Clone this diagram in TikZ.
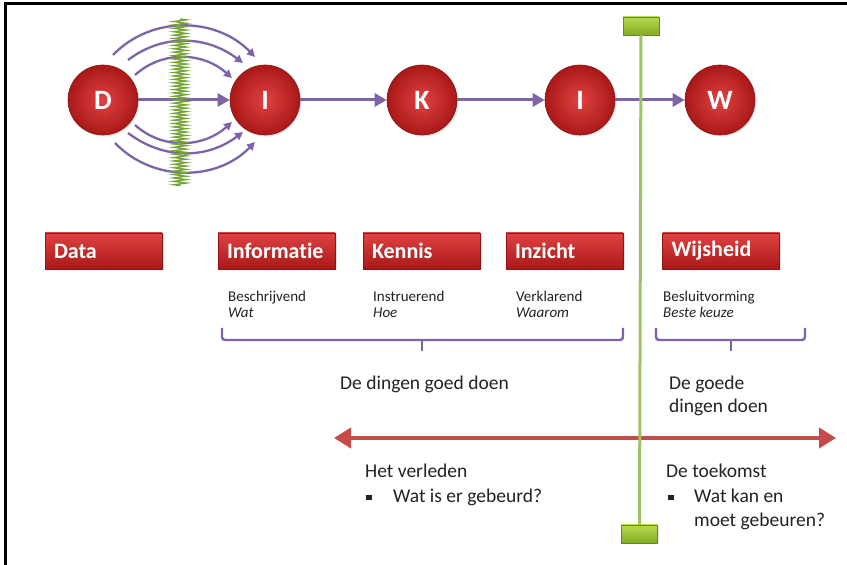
\documentclass[tikz,border=0pt]{standalone}
\usepackage{fontspec}
\setmainfont{Carlito}[Ligatures=NoCommon]
\usetikzlibrary{arrows.meta,decorations.pathmorphing,shadows,calc}

\definecolor{txt}{RGB}{35,35,35}
\definecolor{purp}{RGB}{125,100,168}
\definecolor{redin}{RGB}{224,66,66}
\definecolor{redout}{RGB}{170,24,24}
\definecolor{redline}{RGB}{198,74,74}
\definecolor{grn}{RGB}{160,194,96}
\definecolor{springc}{RGB}{118,164,56}
\definecolor{grntop}{RGB}{182,216,76}
\definecolor{grnbot}{RGB}{132,172,38}

\begin{document}
\begin{tikzpicture}[x=1pt,y=1pt,
  stage/.style={circle, minimum size=70pt, inner sep=0pt,
    draw=redout!80!black, line width=0.6pt, inner color=redin, outer color=redout,
    font=\bfseries\fontsize{28}{28}\selectfont, text=white,
    drop shadow={opacity=0.22, shadow xshift=1.5pt, shadow yshift=-1.5pt}},
  levelbox/.style={rectangle, minimum width=117pt, minimum height=36pt, inner sep=0pt,
    text width=99pt, align=left, top color=redin, bottom color=redout,
    draw=redout!85!black, line width=0.5pt,
    font=\bfseries\fontsize{22}{22}\selectfont, text=white,
    drop shadow={opacity=0.22, shadow xshift=1.5pt, shadow yshift=-1.5pt}},
  gridbox/.style={rectangle, minimum width=36pt, minimum height=18pt, inner sep=0pt,
    top color=grntop, bottom color=grnbot, draw=grnbot!80!black, line width=0.4pt,
    drop shadow={opacity=0.2, shadow xshift=1pt, shadow yshift=-1pt}},
  flow/.style={purp, line width=3pt, -{Triangle[length=12pt,width=13pt]}},
  wave/.style={purp, line width=2.3pt, -{Triangle[length=8pt,width=8pt]}},
  brace/.style={purp, line width=2.4pt, rounded corners=3pt},
  small/.style={anchor=base west, text=txt, inner sep=0pt, font=\fontsize{15}{15}\selectfont},
  big/.style={anchor=base west, text=txt, inner sep=0pt, font=\fontsize{19.5}{19.5}\selectfont},
  timeline/.style={redline, line width=4pt, {Triangle[length=17pt,width=20pt]}-{Triangle[length=17pt,width=20pt]}},
]
\useasboundingbox (0,0) rectangle (847,565);
\fill[white] (0,0) rectangle (847,565);

% frame
\draw[line width=3pt, black] (5,0) -- (5,561) -- (847,561);

% wave arcs from D to I
\coordinate (a1s) at (113,510); \coordinate (a1e) at (255,508);
\coordinate (a2s) at (128,505); \coordinate (a2e) at (243,502);
\coordinate (a3s) at (135,490); \coordinate (a3e) at (232,487);
\coordinate (a4s) at (135,440); \coordinate (a4e) at (232,443);
\coordinate (a5s) at (128,432); \coordinate (a5e) at (243,433);
\coordinate (a6s) at (115,422); \coordinate (a6e) at (255,423);
\draw[wave] (a1s) to[out=46,in=134] (a1e);
\draw[wave] (a2s) to[out=37,in=143] (a2e);
\draw[wave] (a3s) to[out=42,in=138] (a3e);
\draw[wave] (a4s) to[out=-42,in=-138] (a4e);
\draw[wave] (a5s) to[out=-37,in=-143] (a5e);
\draw[wave] (a6s) to[out=-46,in=-134] (a6e);

% stages
\node[stage] (D)  at (103,465) {D};
\node[stage] (I1) at (265,465) {I};
\node[stage] (K)  at (422,465) {K};
\node[stage] (I2) at (580,465) {I};
\node[stage] (W)  at (720,465) {W};

\draw[flow] (D) -- (I1);
\draw[flow] (I1) -- (K);
\draw[flow] (K) -- (I2);
\draw[flow] (I2) -- (W);

% noise filter
\coordinate (zt) at (180,546);
\coordinate (zb) at (180,379);
\draw[springc, line width=1.3pt, decorate,
      decoration={zigzag, segment length=3.4pt, amplitude=6.5pt}] (zt) -- (zb);

% level labels
\node[levelbox] (data) at (103.5,314) {Data};
\node[levelbox] (info) at (276.5,314) {Informatie};
\node[levelbox] (kenn) at (421.5,314) {Kennis};
\node[levelbox] (inz)  at (564.5,314) {Inzicht};
\node[levelbox] (wijs) at (721,314)   {Wijsheid};

\node[small] (t1) at (228,263) {Beschrijvend};
\node[small] (t1b) at (228,247) {\itshape Wat};
\node[small] (t2) at (373,263) {Instruerend};
\node[small] (t2b) at (373,247) {\itshape Hoe};
\node[small] (t3) at (516,263) {Verklarend};
\node[small] (t3b) at (516,247) {\itshape Waarom};
\node[small] (t4) at (663,263) {Besluitvorming};
\node[small] (t4b) at (663,247) {\itshape Beste keuze};

% braces
\draw[brace] (222,237) -- (222,225) -- (623,225) -- (623,237);
\draw[purp, line width=2.4pt] (422,225) -- (422,214);
\draw[brace] (656,237) -- (656,225) -- (805,225) -- (805,237);
\draw[purp, line width=2.4pt] (731,225) -- (731,214);

\node[big] (doing) at (340,175) {De dingen goed doen};
\node[big] (good1) at (669,175) {De goede};
\node[big] (good2) at (669,152) {dingen doen};

% time line
\coordinate (past) at (334,127);
\coordinate (future) at (836,127);
\draw[timeline] (past) -- (future);

\node[big] (verl) at (365,87) {Het verleden};
\node[big] (b1) at (366,62) {\raisebox{2.5pt}{\rule{5.5pt}{5.5pt}}};
\node[big] (q1) at (393,62) {Wat is er gebeurd?};
\node[big] (toek) at (666,87) {De toekomst};
\node[big] (b2) at (668,62) {\raisebox{2.5pt}{\rule{5.5pt}{5.5pt}}};
\node[big] (q2) at (694,62) {Wat kan en};
\node[big] (q3) at (694,38) {moet gebeuren?};

% now marker
\node[gridbox] (gt) at (641,539) {};
\node[gridbox] (gb) at (639.5,31) {};
\draw[grn, line width=3pt] (gt.south) -- (gb.north);
\end{tikzpicture}
\end{document}
